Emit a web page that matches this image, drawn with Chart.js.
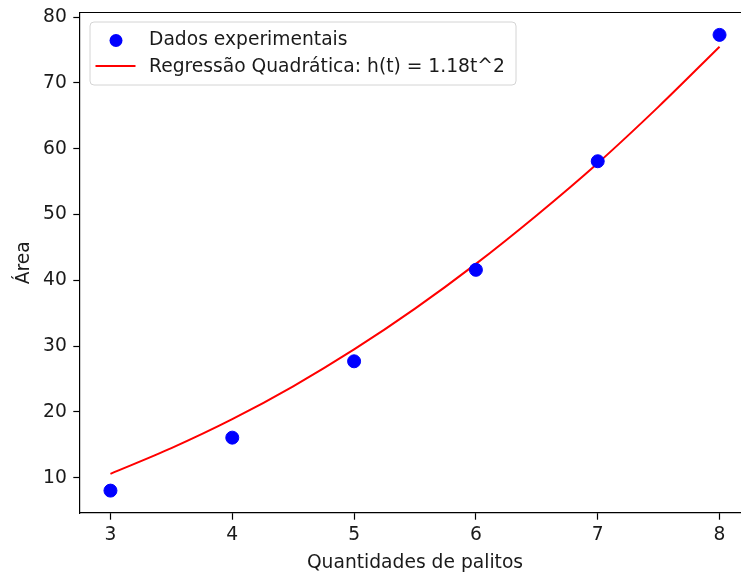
<!DOCTYPE html>
<html>
<head>
<meta charset="utf-8">
<script src="https://cdn.jsdelivr.net/npm/chart.js@4/dist/chart.umd.min.js"></script>
<style>
    html, body {margin: 0; padding: 0; background: #fff; overflow: hidden}
    #wrap      {position: relative; width: 760px; height: 572px}
</style>
</head>
<body>
<div id="wrap"><canvas id="chart" width="760" height="572"></canvas></div>
<script>
// measured points
const pointsT = [3, 4, 5, 6, 7, 8];
const pointsH = [8.05, 16.1, 27.7, 41.6, 58.1, 77.3];

// fitted curve
const curveT = [3, 3.5, 4, 4.5, 5, 5.5, 6, 6.5, 7, 7.5, 8];
const curveH = [10.6, 14.5, 18.9, 23.9, 29.5, 35.7, 42.5, 49.9, 57.8, 66.4, 75.5];

const xTicks = [3, 4, 5, 6, 7, 8];
const yTicks = [10, 20, 30, 40, 50, 60, 70, 80];

const LABEL_POINTS = 'Dados experimentais';
const LABEL_CURVE  = 'Regressão Quadrática: h(t) = 1.18t^2';

const FONT      = 'DejaVu Sans';
const FONT_SIZE = 18.7;
const TEXT      = '#1a1a1a';
const BLUE      = '#0000ff';
const RED       = '#ff0000';

const zip = (xs, ys) => xs.map((x, i) => ({x, y: ys[i]}));

// top spine + matplotlib style legend box in the upper left corner
const frame = {
    id: 'frame',
    afterDraw(chart) {
        const ctx  = chart.ctx;
        const area = chart.chartArea;
        ctx.save();
        ctx.strokeStyle = '#000';
        ctx.lineWidth   = 1.2;
        ctx.beginPath();
        ctx.moveTo(area.left, area.top);
        ctx.lineTo(area.right, area.top);
        ctx.stroke();

        const bx = area.left + 10, by = area.top + 9.5, bw = 426, bh = 63;
        ctx.lineWidth   = 1;
        ctx.fillStyle   = 'rgba(255,255,255,0.8)';
        ctx.strokeStyle = '#d4d4d4';
        ctx.beginPath();
        ctx.roundRect(bx, by, bw, bh, 4);
        ctx.fill();
        ctx.stroke();

        ctx.fillStyle = BLUE;
        ctx.beginPath();
        ctx.arc(bx + 26, by + 18.5, 6.5, 0, Math.PI * 2);
        ctx.fill();

        ctx.strokeStyle = RED;
        ctx.lineWidth   = 2;
        ctx.beginPath();
        ctx.moveTo(bx + 5.5, by + 44);
        ctx.lineTo(bx + 45.5, by + 44);
        ctx.stroke();

        ctx.fillStyle    = TEXT;
        ctx.font         = `${FONT_SIZE}px "${FONT}"`;
        ctx.textBaseline = 'middle';
        ctx.fillText(LABEL_POINTS, bx + 59, by + 18);
        ctx.fillText(LABEL_CURVE,  bx + 59, by + 45.5);
        ctx.restore();
    }
};

const axisStyle = {
    border: {display: true, color: '#000', width: 1.2},
    grid  : {display: true, drawOnChartArea: false, drawTicks: true, tickLength: 6.7, tickColor: '#000', tickWidth: 1.2},
};

new Chart(document.getElementById('chart'), {
    data: {
        datasets: [
            {
                type                  : 'line',
                label                 : LABEL_CURVE,
                data                  : zip(curveT, curveH),
                borderColor           : RED,
                borderWidth           : 2,
                pointRadius           : 0,
                cubicInterpolationMode: 'monotone',
                fill                  : false,
                order                 : 2
            },
            {
                type            : 'scatter',
                label           : LABEL_POINTS,
                data            : zip(pointsT, pointsH),
                backgroundColor : BLUE,
                borderColor     : BLUE,
                pointRadius     : 6.5,
                pointHoverRadius: 6.5,
                order           : 1
            }
        ]
    },
    options: {
        responsive : false,
        animation  : false,
        events     : [],
        layout     : {padding: {left: 0, top: 12.5, right: 10, bottom: 0}},
        plugins    : {legend: {display: false}, tooltip: {enabled: false}},
        scales     : {
            x: {
                type : 'linear',
                min  : 2.75,
                max  : 8.25,
                ...axisStyle,
                afterBuildTicks: s => { s.ticks = xTicks.map(v => ({value: v})); },
                afterFit       : s => { s.height = 59; s.paddingLeft = 0; s.paddingRight = 0; },
                ticks: {color: TEXT, padding: 4, font: {family: FONT, size: FONT_SIZE}, maxRotation: 0},
                title: {display: true, text: 'Quantidades de palitos', color: TEXT,
                        font: {family: FONT, size: FONT_SIZE}, padding: {top: 0, bottom: -2}}
            },
            y: {
                type : 'linear',
                min  : 4.65,
                max  : 80.7,
                ...axisStyle,
                afterBuildTicks: s => { s.ticks = yTicks.map(v => ({value: v})); },
                afterFit       : s => { s.width = 80; s.paddingTop = 0; s.paddingBottom = 0; },
                ticks: {color: TEXT, padding: 6.5, font: {family: FONT, size: FONT_SIZE}},
                title: {display: true, text: 'Área', color: TEXT,
                        font: {family: FONT, size: FONT_SIZE}, padding: {top: 13, bottom: 0}}
            }
        }
    },
    plugins: [frame]
});
</script>
</body>
</html>
